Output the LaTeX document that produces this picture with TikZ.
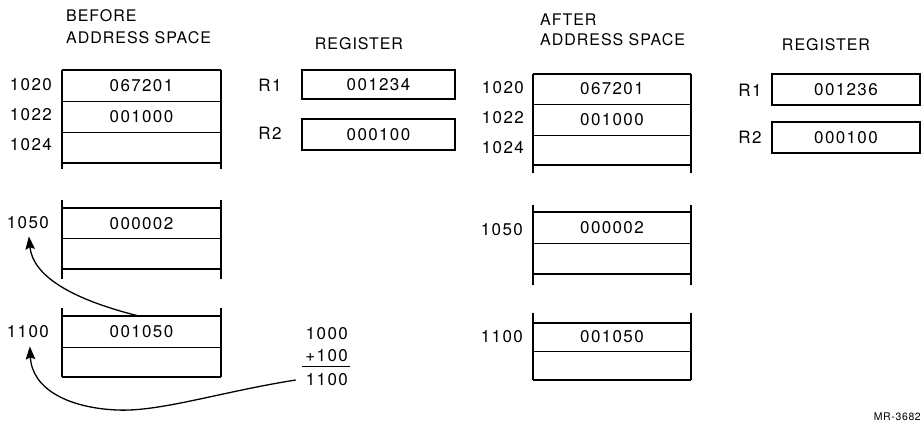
\documentclass[tikz,border=0pt]{standalone}
\usepackage{fontspec}
\setmainfont{TeX Gyre Heros}[LetterSpace=6]
\newfontfamily\digitfont{TeX Gyre Heros}[LetterSpace=8]
\usetikzlibrary{arrows.meta}
\begin{document}
\begin{tikzpicture}[x=1pt,y=-1pt,
  txt/.style={font=\fontsize{16}{18}\selectfont, inner sep=0pt},
  num/.style={font=\digitfont\fontsize{17}{19}\selectfont, inner sep=0pt},
  cellb/.style={num, minimum width=159pt, minimum height=31pt, draw=none},
  cella/.style={num, minimum width=158pt, minimum height=30pt, draw=none},
  reg/.style={num, draw, line width=1.8pt, minimum width=153pt, minimum height=30pt},
  thinl/.style={line width=1.1pt},
  thkl/.style={line width=1.9pt},
  arr/.style={line width=1.3pt, -{Stealth[length=13pt,width=9.5pt,inset=2pt]}}
]
\useasboundingbox (0,0) rectangle (922,430);

% ---------------- BEFORE ----------------
\node[txt, anchor=west] (hb1) at (66,16) {BEFORE};
\node[txt, anchor=west] (hb2) at (66,38) {ADDRESS SPACE};
\node[txt] (hbr) at (359,44) {REGISTER};

% top block
\node[cellb] (b20) at (141.5,85.5) {067201};
\node[cellb] (b22) at (141.5,116.5) {001000};
\node[cellb] (b24) at (141.5,147.5) {};
\draw[thkl] (b20.north west) -- (b20.north east);
\draw[thinl] (b20.south west) -- (b20.south east);
\draw[thinl] (b22.south west) -- (b22.south east);
\draw[thkl] (b24.south west) -- (b24.south east);
\draw[thkl] (b20.north west) -- ([yshift=-6pt]b24.south west);
\draw[thkl] (b20.north east) -- ([yshift=-6pt]b24.south east);
\node[num, anchor=east] (lb20) at (52,85) {1020};
\node[num, anchor=east] (lb22) at (52,115) {1022};
\node[num, anchor=east] (lb24) at (52,145) {1024};

% middle block
\node[cellb, minimum height=30.5pt] (b50) at (141.5,223.5) {000002};
\node[cellb, minimum height=30.5pt] (b52) at (141.5,254) {};
\draw[thkl] (b50.north west) -- (b50.north east);
\draw[thinl] (b50.south west) -- (b50.south east);
\draw[thkl] (b52.south west) -- (b52.south east);
\draw[thkl] ([yshift=8pt]b50.north west) -- ([yshift=-10pt]b52.south west);
\draw[thkl] ([yshift=8pt]b50.north east) -- ([yshift=-10pt]b52.south east);
\node[num, anchor=east] (lb50) at (49,223) {1050};

% bottom block
\node[cellb] (b100) at (141.5,331.5) {001050};
\node[cellb, minimum height=30pt] (b102) at (141.5,362) {};
\draw[thkl] (b100.north west) -- (b100.north east);
\draw[thinl] (b100.south west) -- (b100.south east);
\draw[thkl] (b102.south west) -- (b102.south east);
\draw[thkl] ([yshift=8pt]b100.north west) -- (b102.south west);
\draw[thkl] ([yshift=8pt]b100.north east) -- (b102.south east);
\node[num, anchor=east] (lb100) at (49,332) {1100};

% registers
\node[reg, minimum height=29pt] (rb1) at (378.5,84.5) {001234};
\node[reg, minimum height=31pt] (rb2) at (378.5,134.5) {000100};
\node[num] (lrb1) at (270,85) {R1};
\node[num] (lrb2) at (270,133) {R2};

% sum
\node[num, anchor=east] (s1) at (348,334) {1000};
\node[num, anchor=east] (s2) at (348,356) {+100};
\node[num, anchor=east] (s3) at (348,380) {1100};
\draw[line width=1pt] ([shift={(-3pt,-4pt)}]s2.south west) -- ([shift={(2pt,-4pt)}]s2.south east);

% arrows
\draw[arr] ([xshift=-3.5pt]b100.north) .. controls +(-68,-17) and +(4,39) .. ([shift={(1pt,-7pt)}]lb50.south);
\draw[arr] ([xshift=-10pt]s3.west) .. controls (220,392) and (160,412) .. (117,410)
   .. controls (70,408) and (32,390) .. ([shift={(2pt,-8pt)}]lb100.south);

% ---------------- AFTER ----------------
\node[txt, anchor=west] (ha1) at (540,20) {AFTER};
\node[txt, anchor=west] (ha2) at (540,40) {ADDRESS SPACE};
\node[txt] (har) at (826,45) {REGISTER};

% top block
\node[cella] (a20) at (612,89) {067201};
\node[cella, minimum height=31pt] (a22) at (612,119.5) {001000};
\node[cella] (a24) at (612,150) {};
\draw[thkl] (a20.north west) -- (a20.north east);
\draw[thinl] (a20.south west) -- (a20.south east);
\draw[thinl] (a22.south west) -- (a22.south east);
\draw[thkl] (a24.south west) -- (a24.south east);
\draw[thkl] (a20.north west) -- ([yshift=-8pt]a24.south west);
\draw[thkl] (a20.north east) -- ([yshift=-8pt]a24.south east);
\node[num, anchor=east] (la20) at (524,88) {1020};
\node[num, anchor=east] (la22) at (524,118) {1022};
\node[num, anchor=east] (la24) at (524,148) {1024};

% middle block
\node[cella, minimum height=31pt] (a50) at (612,227.5) {000002};
\node[cella, minimum height=31pt] (a52) at (612,258.5) {};
\draw[thkl] (a50.north west) -- (a50.north east);
\draw[thinl] (a50.south west) -- (a50.south east);
\draw[thkl] (a52.south west) -- (a52.south east);
\draw[thkl] ([yshift=7pt]a50.north west) -- ([yshift=-11pt]a52.south west);
\draw[thkl] ([yshift=7pt]a50.north east) -- ([yshift=-11pt]a52.south east);
\node[num, anchor=east] (la50) at (523,230) {1050};

% bottom block
\node[cella, minimum height=28pt] (a100) at (612,337) {001050};
\node[cella, minimum height=29pt] (a102) at (612,365.5) {};
\draw[thkl] (a100.north west) -- (a100.north east);
\draw[thinl] (a100.south west) -- (a100.south east);
\draw[thkl] (a102.south west) -- (a102.south east);
\draw[thkl] ([yshift=10pt]a100.north west) -- (a102.south west);
\draw[thkl] ([yshift=10pt]a100.north east) -- (a102.south east);
\node[num, anchor=east] (la100) at (523,337) {1100};

% registers
\node[reg, minimum width=148pt, minimum height=31pt] (ra1) at (846,89.5) {001236};
\node[reg, minimum width=148pt, minimum height=31pt] (ra2) at (846,137.5) {000100};
\node[num] (lra1) at (750,90) {R1};
\node[num] (lra2) at (750,137) {R2};

\node[inner sep=0pt, anchor=east, font=\fontsize{10.5}{12}\selectfont] (mr) at (921,417) {MR-3682};
\end{tikzpicture}
\end{document}
